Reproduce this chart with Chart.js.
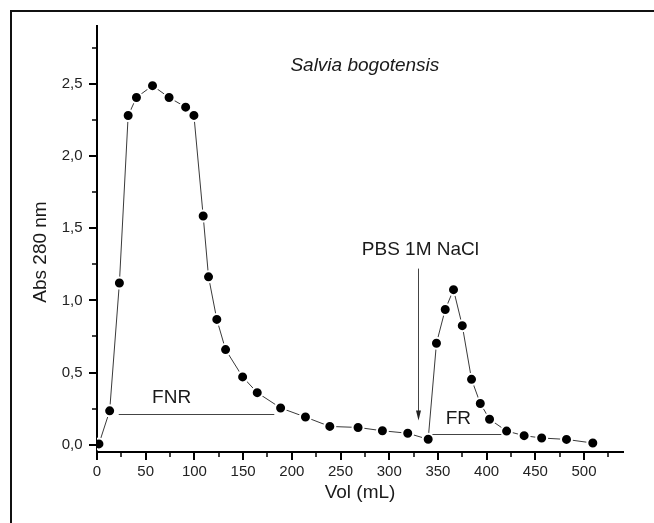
<!DOCTYPE html>
<html><head><meta charset="utf-8">
<script src="https://cdn.jsdelivr.net/npm/chart.js@4.4.1/dist/chart.umd.min.js"></script>
<style>html,body{margin:0;padding:0;background:#fff;} canvas{display:block;}</style>
</head><body>
<canvas id="c" width="654" height="523"></canvas>
<script>
// ---- data ----
const volume = [2, 13, 23, 32, 40.5, 57, 74, 91, 99.5, 109, 114.5, 123, 132, 149.5, 164.5, 188.5, 214, 239, 268, 293, 319, 340, 348.5, 357.5, 366, 375, 384.5, 393.5, 403, 420.5, 438.5, 456.5, 482, 509];
const absorbance = [0.006, 0.235, 1.12, 2.28, 2.405, 2.487, 2.405, 2.338, 2.281, 1.584, 1.163, 0.868, 0.659, 0.47, 0.361, 0.255, 0.192, 0.127, 0.12, 0.097, 0.08, 0.038, 0.703, 0.937, 1.074, 0.825, 0.453, 0.286, 0.177, 0.095, 0.063, 0.047, 0.037, 0.012];
const xMajorTicks = [0, 50, 100, 150, 200, 250, 300, 350, 400, 450, 500];
const xMinorTicks = [25, 75, 125, 175, 225, 275, 325, 375, 425, 475, 525];
const yMajorTicks = [0, 0.5, 1.0, 1.5, 2.0, 2.5];
const yMinorTicks = [0.25, 0.75, 1.25, 1.75, 2.25, 2.75];
const xTitle = 'Vol (mL)';
const yTitle = 'Abs 280 nm';
const noteTexts = ['Salvia bogotensis', 'PBS 1M NaCl', 'FNR', 'FR'];

// ---- annotation placement (data units) ----
const notePlaces = [
  {x: 275, y: 2.626, italic: true},
  {x: 332, y: 1.351},
  {x: 76.6, y: 0.325},
  {x: 371, y: 0.18}
];
const rangeLines = [{x1: 22.3, x2: 182, y: 0.214}, {x1: 342.3, x2: 417.7, y: 0.074}];
const arrowNote = {x: 329.6, yFrom: 1.22, yTo: 0.168};

const FONT = '"Liberation Sans", Arial, sans-serif';
const points = volume.map((v, i) => ({x: v, y: absorbance[i]}));

const decor = {
  id: 'decor',
  beforeDraw(chart) {
    const ctx = chart.ctx;
    ctx.save();
    ctx.fillStyle = '#fff';
    ctx.fillRect(0, 0, chart.width, chart.height);
    ctx.strokeStyle = '#111';
    ctx.lineWidth = 2;
    ctx.beginPath();
    ctx.moveTo(11, chart.height);
    ctx.lineTo(11, 11);
    ctx.lineTo(chart.width, 11);
    ctx.stroke();
    ctx.restore();
  },
  beforeDatasetsDraw(chart) {
    const {ctx, scales: {x, y}} = chart;
    ctx.save();
    ctx.strokeStyle = '#444';
    ctx.lineWidth = 1;
    rangeLines.forEach(l => {
      const py = Math.round(y.getPixelForValue(l.y)) + 0.5;
      ctx.beginPath();
      ctx.moveTo(x.getPixelForValue(l.x1), py);
      ctx.lineTo(x.getPixelForValue(l.x2), py);
      ctx.stroke();
    });
    // arrow
    const ax = Math.round(x.getPixelForValue(arrowNote.x)) + 0.5;
    const ay1 = y.getPixelForValue(arrowNote.yFrom);
    const ay2 = y.getPixelForValue(arrowNote.yTo);
    ctx.beginPath();
    ctx.moveTo(ax, ay1);
    ctx.lineTo(ax, ay2 - 6);
    ctx.stroke();
    ctx.fillStyle = '#222';
    ctx.beginPath();
    ctx.moveTo(ax - 2.5, ay2 - 10);
    ctx.lineTo(ax + 2.5, ay2 - 10);
    ctx.lineTo(ax, ay2);
    ctx.closePath();
    ctx.fill();
    ctx.restore();
  },
  afterDraw(chart) {
    const {ctx, scales: {x, y}, chartArea} = chart;
    ctx.save();
    ctx.strokeStyle = '#000';
    // ticks
    const drawX = (vals, len, w) => {
      ctx.lineWidth = w;
      vals.forEach(v => {
        const px = Math.round(x.getPixelForValue(v));
        ctx.beginPath();
        ctx.moveTo(px, chartArea.bottom);
        ctx.lineTo(px, chartArea.bottom + len);
        ctx.stroke();
      });
    };
    const drawY = (vals, len, w) => {
      ctx.lineWidth = w;
      vals.forEach(v => {
        const py = Math.round(y.getPixelForValue(v));
        ctx.beginPath();
        ctx.moveTo(chartArea.left, py);
        ctx.lineTo(chartArea.left - len, py);
        ctx.stroke();
      });
    };
    drawX(xMajorTicks, 8, 2);
    drawX(xMinorTicks, 5, 1.5);
    drawY(yMajorTicks, 8, 2);
    drawY(yMinorTicks, 5, 1.5);

    // notes
    ctx.fillStyle = '#1a1a1a';
    ctx.textAlign = 'center';
    ctx.textBaseline = 'middle';
    noteTexts.forEach((t, i) => {
      const p = notePlaces[i];
      ctx.font = (p.italic ? 'italic ' : '') + '19px ' + FONT;
      ctx.fillText(t, x.getPixelForValue(p.x), y.getPixelForValue(p.y));
    });
    // y title
    ctx.font = '19px ' + FONT;
    ctx.translate(41, 252);
    ctx.rotate(-Math.PI / 2);
    ctx.fillText(yTitle, 0, 0);
    ctx.restore();
  }
};

new Chart(document.getElementById('c'), {
  type: 'scatter',
  data: {
    datasets: [{
      data: points,
      showLine: true,
      borderColor: '#3a3a3a',
      borderWidth: 1,
      pointRadius: 5.5,
      pointHoverRadius: 5.5,
      pointBackgroundColor: '#000',
      pointBorderColor: '#fff',
      pointBorderWidth: 2,
      tension: 0
    }]
  },
  options: {
    responsive: false,
    animation: false,
    devicePixelRatio: 1,
    layout: {padding: {top: 26, right: 31, left: 0, bottom: 0}},
    plugins: {legend: {display: false}, tooltip: {enabled: false}},
    scales: {
      x: {
        type: 'linear',
        min: 0, max: 540,
        afterBuildTicks: s => { s.ticks = xMajorTicks.map(v => ({value: v})); },
        afterFit: s => { s.height = 71; },
        grid: {display: false, drawTicks: false},
        border: {display: true, color: '#000', width: 2},
        ticks: {color: '#222', font: {family: FONT, size: 15}, padding: 11, maxRotation: 0, autoSkip: false,
          callback: v => String(v)},
        title: {display: true, text: xTitle, color: '#1a1a1a', font: {family: FONT, size: 19}, padding: {top: 0, bottom: 19}}
      },
      y: {
        type: 'linear',
        min: -0.05, max: 2.9,
        afterBuildTicks: s => { s.ticks = yMajorTicks.map(v => ({value: v})); },
        afterFit: s => { s.width = 97; },
        grid: {display: false, drawTicks: false},
        border: {display: true, color: '#000', width: 2},
        ticks: {color: '#222', font: {family: FONT, size: 15}, padding: 14.5, autoSkip: false,
          callback: v => Number(v).toFixed(1).replace('.', ',')}
      }
    }
  },
  plugins: [decor]
});
</script>
</body></html>
